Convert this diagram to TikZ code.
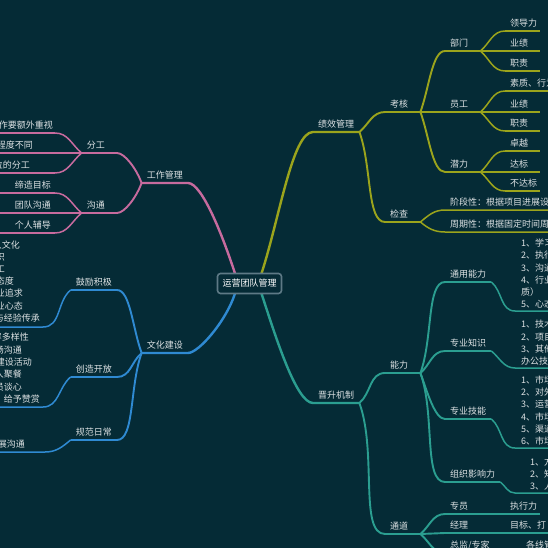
\documentclass[tikz,border=0pt]{standalone}
\usepackage{fontspec}
\newfontfamily\cjk{Noto Sans CJK SC}

\definecolor{bg}{HTML}{052B36}
\definecolor{olv}{HTML}{9BA41C}
\definecolor{tea}{HTML}{2B9E90}
\definecolor{pnk}{HTML}{C76B9E}
\definecolor{blu}{HTML}{2F8AD2}
\definecolor{txt}{HTML}{DCE1E3}
\definecolor{rootln}{HTML}{5E7A86}

\tikzset{
  tp0/.style={inner xsep=5pt, inner ysep=2.5pt, text=txt, font=\cjk\fontsize{9}{12.2}\selectfont},
  tp/.style={tp0, text height=7.2pt, text depth=1.5pt},
  tw/.style={text width=25pt, align=left},
  ml/.style={tp0, align=left, inner xsep=6pt, anchor=south west},
  ln/.style={tp, inner sep=0pt, anchor=east},
  l1/.style={line width=2.4pt},
  l2/.style={line width=1.9pt},
  l3/.style={line width=1.5pt},
  % root to main topics
  rsu/.style={out=72, in=180, in looseness=0.35},
  rsd/.style={out=-72, in=180, in looseness=0.35},
  lsu/.style={out=108, in=0, in looseness=0.35},
  lsd/.style={out=-108, in=0, in looseness=0.35},
  % long bends
  rup/.style={out=70, in=180, in looseness=0.5},
  rdn/.style={out=-70, in=180, in looseness=0.5},
  lup/.style={out=110, in=0, in looseness=0.5},
  ldn/.style={out=-110, in=0, in looseness=0.5},
  % short bends
  rlu/.style={out=40, in=180},
  rld/.style={out=-40, in=180},
  llu/.style={out=140, in=0},
  lld/.style={out=-140, in=0},
}

\begin{document}
\begin{tikzpicture}[x=1pt, y=-1pt]
  \useasboundingbox (0,0) rectangle (548,548);
  \clip (0,0) rectangle (548,548);
  \fill[bg] (0,0) rectangle (548,548);

  \coordinate (rc) at (249.5,283.5);
  \coordinate (edgeL) at (-5,0);
  \coordinate (edgeR) at (560,0);

  % ---- 绩效管理
  \node[tp, anchor=south west] (jx) at (313,132) {绩效管理};
  \node[tp, tw, anchor=south west] (kh) at (385,112) {考核};
  \node[tp, tw, anchor=south west] (bm) at (445,51) {部门};
  \node[tp, tw, anchor=south west] (ldl) at (505,31) {领导力};
  \node[tp, tw, anchor=south west] (yj1) at (505,51) {业绩};
  \node[tp, tw, anchor=south west] (zz1) at (505,71) {职责};
  \node[tp, tw, anchor=south west] (yg) at (445,112) {员工};
  \node[tp, anchor=south west] (szxw) at (505,91) {素质、行为};
  \node[tp, tw, anchor=south west] (yj2) at (505,112) {业绩};
  \node[tp, tw, anchor=south west] (zz2) at (505,131) {职责};
  \node[tp, tw, anchor=south west] (ql) at (445,172) {潜力};
  \node[tp, tw, anchor=south west] (zy) at (505,151) {卓越};
  \node[tp, tw, anchor=south west] (db) at (505,172) {达标};
  \node[tp, tw, anchor=south west] (bdb) at (505,191) {不达标};
  \node[tp, tw, anchor=south west] (jc) at (385,222) {检查};
  \node[tp, anchor=south west] (jdx) at (445,210) {阶段性：根据项目进展设};
  \node[tp, anchor=south west] (zqx) at (445,232) {周期性：根据固定时间周};

  \draw[olv, l1] ([xshift=12pt, yshift=10pt]rc) to[rsu] (jx.south west) -- (jx.south east);
  \draw[olv, l2] (jx.south east) to[rlu] (kh.south west) -- (kh.south east);
  \draw[olv, l2] (jx.south east) to[rdn] (jc.south west) -- (jc.south east);
  \draw[olv, l2] (kh.south east) to[rup] (bm.south west) -- (bm.south east);
  \draw[olv, l2] (kh.south east) -- (yg.south west) -- (yg.south east);
  \draw[olv, l2] (kh.south east) to[rdn] (ql.south west) -- (ql.south east);
  \foreach \p/\a/\b/\c in {bm/ldl/yj1/zz1, yg/szxw/yj2/zz2, ql/zy/db/bdb} {
    \draw[olv, l3] (\p.south east) to[rlu] (\a.south west);
    \draw[olv, l3] (\p.south east) -- (\b.south west);
    \draw[olv, l3] (\p.south east) to[rld] (\c.south west);
    \draw[olv, l3] (\b.south west) -- (\b.south east) (\c.south west) -- (\c.south east);
  }
  \foreach \n in {ldl, zy} \draw[olv, l3] (\n.south west) -- (\n.south east);
  \draw[olv, l3] (szxw.south west) -- (szxw.south west -| edgeR);
  \draw[olv, l3] (jc.south east) to[rlu] (jdx.south west) -- (jdx.south west -| edgeR);
  \draw[olv, l3] (jc.south east) to[rld] (zqx.south west) -- (zqx.south west -| edgeR);

  % ---- 晋升机制
  \node[tp, anchor=south west] (js) at (313,403) {晋升机制};
  \node[tp, tw, anchor=south west] (nl) at (385,373) {能力};
  \node[tp, anchor=south west] (tyn) at (445,282) {通用能力};
  \node[ml] (tynx) at (515,311) {1、学习\\2、执行\\3、沟通\\4、行业\\质）\\5、心态};
  \node[tp, anchor=south west] (zyzs) at (445,351) {专业知识};
  \node[ml] (zyzsx) at (515,368) {1、技术\\2、项目\\3、其他\\办公技};
  \node[tp, anchor=south west] (zyjn) at (445,419) {专业技能};
  \node[ml] (zyjnx) at (515,448) {1、市场\\2、对外\\3、运营\\4、市场\\5、渠道\\6、市场};
  \node[tp, anchor=south west] (zzyx) at (445,482) {组织影响力};
  \node[ml, inner xsep=15pt] (zzyxx) at (515,493) {1、方\\2、知\\3、人};
  \node[tp, tw, anchor=south west] (td) at (385,534) {通道};
  \node[tp, tw, anchor=south west] (zhy) at (445,514) {专员};
  \node[tp, tw, anchor=south west] (zxl) at (505,514) {执行力};
  \node[tp, tw, anchor=south west] (jl) at (445,533) {经理};
  \node[tp, anchor=south west] (mbd) at (505,533) {目标、打};
  \node[tp, anchor=south west] (zjzj) at (445,553) {总监/专家};
  \node[tp, anchor=south west] (gxg) at (521,553) {各线管};

  \draw[tea, l1] ([xshift=12pt, yshift=-10pt]rc) to[rsd] (js.south west) -- (js.south east);
  \draw[tea, l2] (js.south east) to[rlu] (nl.south west) -- (nl.south east);
  \draw[tea, l2] (js.south east) to[rdn] (td.south west) -- (td.south east);
  \draw[tea, l2] (nl.south east) to[rup] (tyn.south west) -- (tyn.south east);
  \draw[tea, l2] (nl.south east) to[rlu] (zyzs.south west) -- (zyzs.south east);
  \draw[tea, l2] (nl.south east) to[rdn] (zyjn.south west) -- (zyjn.south east);
  \draw[tea, l2] (nl.south east) to[rdn] (zzyx.south west) -- (zzyx.south east);
  \foreach \p/\c in {tyn/tynx, zyzs/zyzsx, zyjn/zyjnx, zzyx/zzyxx}
    \draw[tea, l3] (\p.south east) to[rld] (\c.south west) -- (\c.south west -| edgeR);
  \draw[tea, l2] (td.south east) to[rlu] (zhy.south west) -- (zhy.south east);
  \draw[tea, l2] (td.south east) -- (jl.south west) -- (jl.south east);
  \draw[tea, l2] (td.south east) to[rld] (zjzj.south west) -- (zjzj.south east);
  \draw[tea, l3] (zhy.south east) -- (zxl.south west) -- (zxl.south east);
  \draw[tea, l3] (jl.south east) -- (mbd.south west) -- (mbd.south west -| edgeR);
  \draw[tea, l3] (zjzj.south east) -- (gxg.south west) -- (gxg.south west -| edgeR);

  % ---- 工作管理
  \node[tp, anchor=south east] (gz) at (188,183) {工作管理};
  \node[tp, tw, anchor=south east] (fg) at (117,153) {分工};
  \node[tp, tw, anchor=south east] (gt) at (117,213) {沟通};
  \node[tp, anchor=south east, inner xsep=2pt] (zyew) at (55,133) {作要额外重视};
  \node[tp, anchor=south east, inner xsep=22pt] (cdbt) at (55,153) {程度不同};
  \node[tp, anchor=south east, inner xsep=25pt] (wdfg) at (55,173) {位的分工};
  \node[tp, anchor=south east, inner xsep=4pt] (dzmb) at (55,193) {缔造目标};
  \node[tp, anchor=south east, inner xsep=4pt] (tdgt) at (55,213) {团队沟通};
  \node[tp, anchor=south east, inner xsep=4pt] (grfd) at (55,233) {个人辅导};

  \draw[pnk, l1] ([xshift=-14.5pt, yshift=10pt]rc) to[lsu] (gz.south east) -- (gz.south west);
  \draw[pnk, l2] (gz.south west) to[lup] (fg.south east) -- (fg.south west);
  \draw[pnk, l2] (gz.south west) to[ldn] (gt.south east) -- (gt.south west);
  \foreach \p/\a/\b/\c in {fg/zyew/cdbt/wdfg, gt/dzmb/tdgt/grfd} {
    \draw[pnk, l3] (\p.south west) to[llu] (\a.south east);
    \draw[pnk, l3] (\p.south west) -- (\b.south east);
    \draw[pnk, l3] (\p.south west) to[lld] (\c.south east);
    \foreach \n in {\a, \b, \c} \draw[pnk, l3] (\n.south east) -- (\n.south east -| edgeL);
  }

  % ---- 文化建设
  \node[tp, anchor=south east] (wh) at (188,353) {文化建设};
  \node[tp, anchor=south east] (gljj) at (117,290) {鼓励积极};
  \node[tp, anchor=south east] (czkf) at (117,377) {创造开放};
  \node[tp, anchor=south east] (gfrc) at (117,440) {规范日常};
  \coordinate (gljjx) at (43,327);
  \coordinate (czkfx) at (43,407);
  \node[ln] (gx1) at (20,245.5) {人文化};
  \node[ln] (gx2) at (5,257.5) {识};
  \node[ln] (gx3) at (5,269.5) {工};
  \node[ln] (gx4) at (14,281.5) {态度};
  \node[ln] (gx5) at (23,294) {业追求};
  \node[ln] (gx6) at (23,306.5) {业心态};
  \node[ln] (gx7) at (40,319) {与经验传承};
  \node[ln] (cx1) at (29,338) {容多样性};
  \node[ln] (cx2) at (22,350.5) {畅沟通};
  \node[ln] (cx3) at (32,363) {建设活动};
  \node[ln] (cx4) at (22,375) {人聚餐};
  \node[ln] (cx5) at (22,387.5) {员谈心};
  \node[ln] (cx6) at (40,400) {给予赞赏};
  \node[tp, anchor=south east, inner xsep=20pt] (zkgt) at (45,452) {展沟通};

  \draw[blu, l1] ([xshift=-14.5pt, yshift=-10pt]rc) to[lsd] (wh.south east) -- (wh.south west);
  \draw[blu, l2] (wh.south west) to[lup] (gljj.south east) -- (gljj.south west);
  \draw[blu, l2] (wh.south west) to[lld] (czkf.south east) -- (czkf.south west);
  \draw[blu, l2] (wh.south west) to[ldn] (gfrc.south east) -- (gfrc.south west);
  \draw[blu, l3] (gljj.south west) to[lld] (gljjx) -- (gljjx -| edgeL);
  \draw[blu, l3] (czkf.south west) to[lld] (czkfx) -- (czkfx -| edgeL);
  \draw[blu, l3] (gfrc.south west) to[lld] (zkgt.south east) -- (zkgt.south east -| edgeL);

  % ---- root
  \node[draw=rootln, line width=1.6pt, rounded corners=3pt, fill=bg, text=white,
        font=\cjk\fontsize{9}{10}\selectfont, minimum width=64pt, minimum height=20pt]
        (root) at (rc) {运营团队管理};
\end{tikzpicture}
\end{document}
